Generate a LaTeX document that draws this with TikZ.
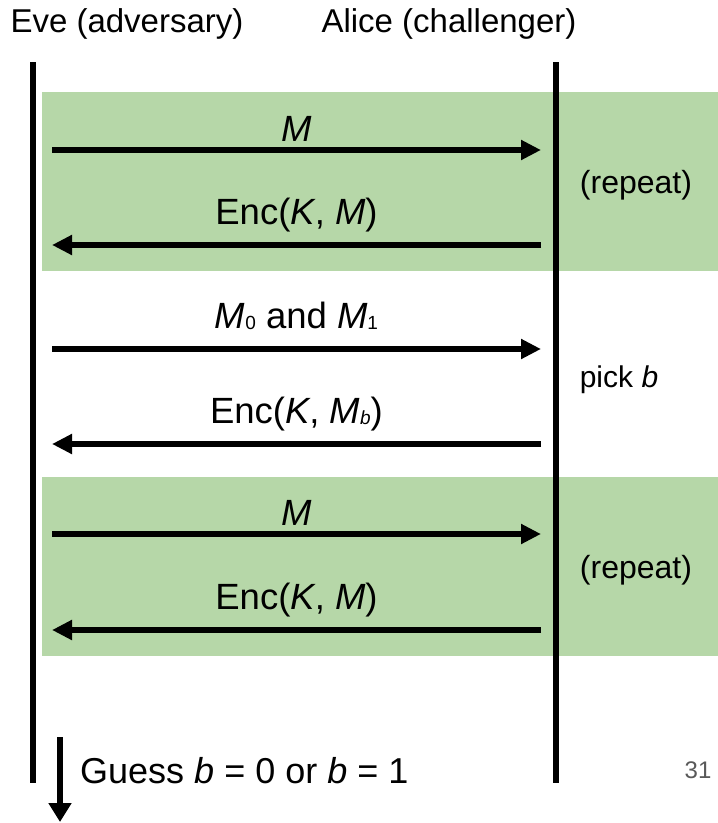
\documentclass[tikz,border=0pt]{standalone}
\usepackage{fontspec}
\setmainfont{Liberation Sans}
\usetikzlibrary{arrows.meta}
\definecolor{repgreen}{HTML}{B6D7A8}
\definecolor{pagegray}{HTML}{595959}
% small index set close to the baseline
\newcommand{\idx}[1]{\raisebox{-1.5pt}{\fontsize{19}{19}\selectfont #1}}

\begin{document}
\begin{tikzpicture}[x=1pt,y=-1pt,
    life/.style={line width=6pt},
    msg/.style={line width=6pt,-{Triangle[length=20pt,width=19pt]}},
    lbl/.style={pos=0.5,anchor=base,yshift=#1,font=\fontsize{36.5}{42}\selectfont},
    lbl/.default=21pt,
    side/.style={anchor=base,font=\fontsize{32}{38}\selectfont}]
\useasboundingbox (0,0) rectangle (718,823);
% shaded rounds
\fill[repgreen] (42,92) rectangle (718,271);
\fill[repgreen] (42,477) rectangle (718,656);
% parties
\node[anchor=base,font=\fontsize{33}{40}\selectfont] (eve)   at (127,32) {Eve (adversary)};
\node[anchor=base,font=\fontsize{33}{40}\selectfont] (alice) at (449,32) {Alice (challenger)};
\coordinate (eveTop)   at (33,62);  \coordinate (eveEnd)   at (33,783);
\coordinate (aliceTop) at (556,62); \coordinate (aliceEnd) at (556,783);
\draw[life] (eveTop) -- (eveEnd);
\draw[life] (aliceTop) -- (aliceEnd);
% messages
\foreach \n/\y in {1/150,2/245,3/349,4/444,5/534,6/630}{
  \coordinate (e\n) at (52,\y);
  \coordinate (a\n) at (541,\y);
}
\draw[msg] (e1) -- (a1) node[lbl=9pt] (l1) {\textit{M}};
\draw[msg] (a2) -- (e2) node[lbl] (l2) {Enc(\textit{K}, \textit{M})};
\draw[msg] (e3) -- (a3) node[lbl] (l3) {\textit{M}\idx{0} and \textit{M}\idx{1}};
\draw[msg] (a4) -- (e4) node[lbl] (l4) {Enc(\textit{K}, \textit{M}\idx{\textit{b}})};
\draw[msg] (e5) -- (a5) node[lbl=9pt] (l5) {\textit{M}};
\draw[msg] (a6) -- (e6) node[lbl] (l6) {Enc(\textit{K}, \textit{M})};
% challenger side notes
\node[side] (rep1) at (636,193) {(repeat)};
\node[side,font=\fontsize{30}{36}\selectfont] (pick) at (619,387) {pick \textit{b}};
\node[side] (rep2) at (636,578) {(repeat)};
% final guess
\coordinate (gTop) at (60,737); \coordinate (gEnd) at (60,822);
\draw[line width=6pt,-{Triangle[length=19pt,width=22pt]}] (gTop) -- (gEnd);
\node[anchor=base west,inner sep=0pt,font=\fontsize{36}{42}\selectfont] (guess) at (80,783)
  {Guess \textit{b} = 0 or \textit{b} = 1};
\node[anchor=base,text=pagegray,font=\fontsize{24}{28}\selectfont] (page) at (698,778) {31};
\end{tikzpicture}
\end{document}
